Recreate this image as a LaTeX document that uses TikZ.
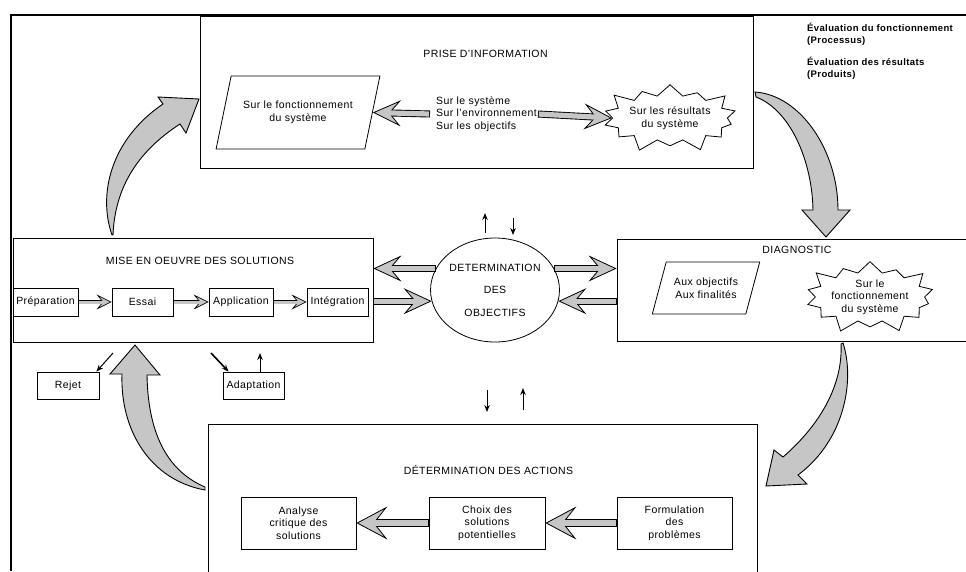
\documentclass[tikz,border=0pt]{standalone}
\usepackage{fontspec}
\setmainfont{Liberation Sans}[LetterSpace=4]
\usetikzlibrary{positioning,arrows.meta,shapes.geometric,shapes.symbols}

\tikzset{
  frame/.style={draw,line width=0.9pt},
  box/.style={draw,line width=0.8pt,align=center,inner sep=1pt},
  lbl/.style={align=center,inner sep=1pt},
  para/.style={draw,line width=0.8pt,trapezium,trapezium left angle=61,trapezium right angle=119,
    trapezium stretches=true,align=center,inner sep=0pt},
  burst/.style={draw,line width=0.8pt,starburst,starburst points=14,starburst point height=15pt,
    align=center,inner sep=0pt},
  bigarrow/.style={line width=7pt,-{Stealth[length=28pt,width=26pt,inset=11pt,line width=0.8pt,fill=gray!45]},
    postaction={draw=gray!45,-,line width=5.2pt,shorten <=0.9pt,shorten >=15pt}},
  hugearrow/.style={line width=7.5pt,-{Stealth[length=31pt,width=33pt,inset=13pt,line width=0.8pt,fill=gray!45]},
    postaction={draw=gray!45,-,line width=5.7pt,shorten <=0.9pt,shorten >=16pt}},
  smallarrow/.style={line width=4.5pt,-{Stealth[length=15pt,width=15pt,inset=6pt,line width=0.7pt,fill=gray!45]},
    postaction={draw=gray!45,-,line width=3pt,shorten <=0.8pt,shorten >=7pt}},
  thinarrow/.style={line width=1pt,-{Stealth[length=7pt,width=5.5pt]}},
  bendarrow/.style={draw,line width=0.9pt,fill=gray!45},
}

\begin{document}
\begin{tikzpicture}[x=1pt,y=-1pt,font=\fontsize{10.5}{12.5}\selectfont]
\useasboundingbox (0,0) rectangle (966,571);
\clip (0,0) rectangle (966,571);
\fill[white] (0,0) rectangle (966,571);

% cadre
\draw[frame,line width=2pt] (11,571) -- (11,15) -- (966,15);

% prise d'information
\node[frame,minimum width=553pt,minimum height=152pt] (prise) at (476.5,92) {};
\node[lbl,below=33pt of prise.north,xshift=9pt] (priset) {PRISE D'INFORMATION};
\node[para,minimum width=164pt,minimum height=73pt] (fonct) at (298,112.5) {Sur le fonctionnement\\du système};
\node[lbl,anchor=west,align=left] (objets) at (435,114) {Sur le système\\Sur l'environnement\\Sur les objectifs};
\node[burst,minimum width=135pt,minimum height=75pt] (resultats) at (670,118) {Sur les résultats\\du système};
\draw[bigarrow] ([xshift=-5pt]objets.west) -- (fonct.east);
\draw[bigarrow] (objets.east) -- (resultats.west);

\node[lbl,anchor=west,align=left,font=\bfseries\fontsize{9.5}{12}\selectfont] (evalf) at (806,34)
  {Évaluation du fonctionnement\\(Processus)};
\node[lbl,anchor=west,align=left,font=\bfseries\fontsize{9.5}{12}\selectfont] (evalr) at (806,68)
  {Évaluation des résultats\\(Produits)};

% mise en oeuvre
\node[frame,minimum width=360pt,minimum height=104pt] (mise) at (193,290) {};
\node[lbl,below=18pt of mise.north,xshift=7pt] (miset) {MISE EN OEUVRE DES SOLUTIONS};
\node[box,minimum width=65pt,minimum height=28pt] (prep) at (45.5,302) {Préparation};
\node[box,minimum width=61pt,minimum height=28pt] (essai) at (142.5,302) {Essai};
\node[box,minimum width=64pt,minimum height=28pt] (appli) at (241,302) {Application};
\node[box,minimum width=61pt,minimum height=28pt] (integ) at (337.5,302) {Intégration};
\draw[smallarrow] (prep) -- (essai);
\draw[smallarrow] (essai) -- (appli);
\draw[smallarrow] (appli) -- (integ);

\node[box,minimum width=62pt,minimum height=27pt] (rejet) at (68,385.5) {Rejet};
\node[box,minimum width=61pt,minimum height=27pt] (adapt) at (253.5,385.5) {Adaptation};
\coordinate (rj) at (113,353);
\coordinate (ad) at (211,353);
\coordinate (adu) at (260,353);
\draw[thinarrow] (rj) -- ([xshift=-3pt]rejet.north east);
\draw[thinarrow,line width=1.6pt] (ad) -- ([xshift=6pt]adapt.north west);
\draw[thinarrow] (adapt.north -| adu) -- (adu);

% determination des objectifs
\node[draw,line width=0.8pt,ellipse,minimum width=112pt,minimum height=104pt,align=center,inner sep=0pt]
  (objectifs) at (495,290) {DETERMINATION\\[10pt]DES\\[10pt]OBJECTIFS};
\draw[bigarrow] (objectifs.160) -- (mise.east |- objectifs.160);
\draw[bigarrow] (mise.east |- objectifs.190) -- (objectifs.190);

\coordinate (oa1) at (485,233); \coordinate (oa2) at (485,213);
\coordinate (ob1) at (513,218); \coordinate (ob2) at (513,235);
\draw[thinarrow] (oa1) -- (oa2);
\draw[thinarrow] (ob1) -- (ob2);
\coordinate (oc1) at (487,390); \coordinate (oc2) at (487,412);
\coordinate (od1) at (523,410); \coordinate (od2) at (523,388);
\draw[thinarrow] (oc1) -- (oc2);
\draw[thinarrow] (od1) -- (od2);

% diagnostic
\node[frame,minimum width=363pt,minimum height=102pt] (diag) at (798.5,290) {};
\node[lbl] (diagt) at (797,250) {DIAGNOSTIC};
\node[para,minimum width=108pt,minimum height=52pt] (finalites) at (706,288) {Aux objectifs\\Aux finalités};
\node[burst,minimum width=135pt,minimum height=70pt] (fonctsys) at (870,297) {Sur le\\fonctionnement\\du système};
\draw[bigarrow] (objectifs.20) -- (diag.west |- objectifs.20);
\draw[bigarrow] (diag.west |- objectifs.-10) -- (objectifs.-10);

% determination des actions
\node[frame,minimum width=549pt,minimum height=176pt] (actions) at (482.5,512) {};
\node[lbl,below=41pt of actions.north,xshift=6pt] (actionst) {DÉTERMINATION DES ACTIONS};
\node[box,minimum width=115pt,minimum height=52pt] (analyse) at (298.5,523) {Analyse\\critique des\\solutions};
\node[box,minimum width=116pt,minimum height=52pt] (choix) at (487,523) {Choix des\\solutions\\potentielles};
\node[box,minimum width=115pt,minimum height=52pt] (formul) at (674.5,523) {Formulation\\des\\problèmes};
\draw[hugearrow] (formul) -- (choix);
\draw[hugearrow] (choix) -- (analyse);

% fleches courbes
\draw[bendarrow] (112,235) .. controls (98,195) and (110,140) .. (163,104) -- (158,97) -- (199,99)
  -- (186,133) -- (180,124) .. controls (140,150) and (115,185) .. (113,235) -- cycle;
\draw[bendarrow] (755,92) .. controls (800,95) and (838,150) .. (838,210) -- (850,210) -- (826,237)
  -- (802,210) -- (813,210) .. controls (812,160) and (790,110) .. (756,97) -- cycle;
\draw[bendarrow] (843,343) .. controls (855,380) and (845,440) .. (798,475) -- (807,484) -- (766,486)
  -- (774,450) -- (783,457) .. controls (820,425) and (843,385) .. (841,344) -- cycle;
\draw[bendarrow] (205,490) .. controls (150,480) and (120,430) .. (122,374) -- (110,374) -- (135,345)
  -- (160,375) -- (147,375) .. controls (148,430) and (165,470) .. (205,487) -- cycle;
\end{tikzpicture}
\end{document}
